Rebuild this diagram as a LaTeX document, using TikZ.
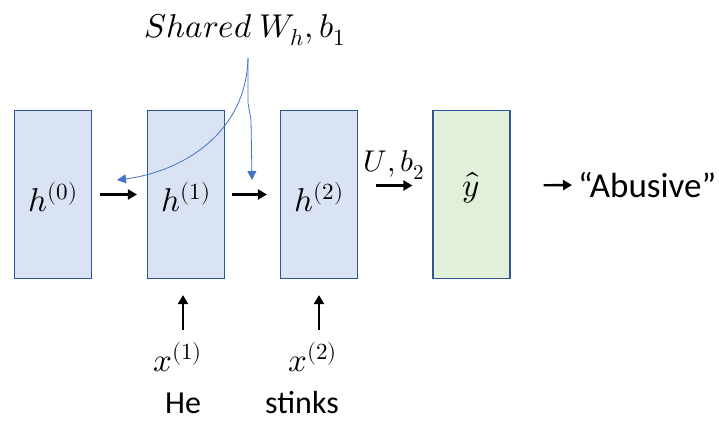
\documentclass[tikz,border=0pt]{standalone}
\usepackage{fontspec}
\usepackage{unicode-math}
\setmainfont{Carlito}
\setmathfont{Latin Modern Math}
\usetikzlibrary{arrows.meta}
\definecolor{boxblue}{HTML}{DAE3F3}
\definecolor{boxgreen}{HTML}{E2F0D9}
\definecolor{edgeblue}{HTML}{2F5597}
\definecolor{linkblue}{HTML}{4472C4}
\tikzset{
  cell/.style={draw=edgeblue, line width=1.2pt, minimum width=77pt, minimum height=168pt, inner sep=0pt},
  hcell/.style={cell, fill=boxblue},
  ycell/.style={cell, fill=boxgreen},
  arr/.style={line width=2.4pt, -{Triangle[length=9pt,width=10pt]}},
  blink/.style={draw=linkblue, line width=0.8pt, -{Triangle[length=9pt,width=9pt]}},
  mlab/.style={font=\fontsize{33}{38}\selectfont, inner sep=0pt},
  ulab/.style={font=\fontsize{30}{34}\selectfont, inner sep=0pt},
  tlab/.style={font=\fontsize{32}{36}\selectfont, inner sep=0pt},
  alab/.style={font=\fontsize{35}{40}\selectfont, inner sep=0pt}
}
\begin{document}
\begin{tikzpicture}[x=1pt,y=-1pt]
\fill[white] (0,0) rectangle (719,423);
\useasboundingbox (0,0) rectangle (719,423);
\node[hcell] (h0) at (53,194.5) {};
\node[hcell] (h1) at (186,194.5) {};
\node[hcell] (h2) at (319,194.5) {};
\node[ycell] (y) at (471.5,194.5) {};
\node[mlab] (lh0) at (53,197) {$h^{(0)}$};
\node[mlab] (lh1) at (186,197) {$h^{(1)}$};
\node[mlab] (lh2) at (319,197) {$h^{(2)}$};
\node[mlab] (ly) at (471,188) {$\hat{y}$};
\node[ulab] (ub) at (394,165) {$U, b_2$};
\node[mlab] (shared) at (245,30) {$\symit{Shared}\ W_h, b_1$};
\node[alab, anchor=west] (abu) at (578,185) {“Abusive”};
\node[mlab] (x1) at (178,357) {$x^{(1)}$};
\node[mlab] (x2) at (313,357) {$x^{(2)}$};
\node[tlab] (he) at (183,403) {He};
\node[tlab] (st) at (302,403) {stinks};
\coordinate (src) at (248,58);
\draw[arr, shorten <=8pt, shorten >=10pt] (h0) -- (h1);
\draw[arr, shorten <=7pt, shorten >=13pt] (h1) -- (h2);
\draw[arr, shorten <=18pt, shorten >=20pt] ([yshift=9pt]h2.east) -- ([yshift=9pt]y.west);
\draw[arr, shorten <=33pt, shorten >=6pt] ([yshift=9pt]y.east) -- (abu.west);
\draw[arr] ([xshift=5pt,yshift=12pt]x1.north) -- ([xshift=-3pt,yshift=-16pt]h1.south);
\draw[arr] ([xshift=6pt,yshift=12pt]x2.north) -- ([xshift=0pt,yshift=-16pt]h2.south);
\draw[blink] (src) .. controls (246,135) and (180,172) .. (117,180);
\draw[blink] (src) -- (248,103) -- (251,120) -- (252,180);
\end{tikzpicture}
\end{document}
